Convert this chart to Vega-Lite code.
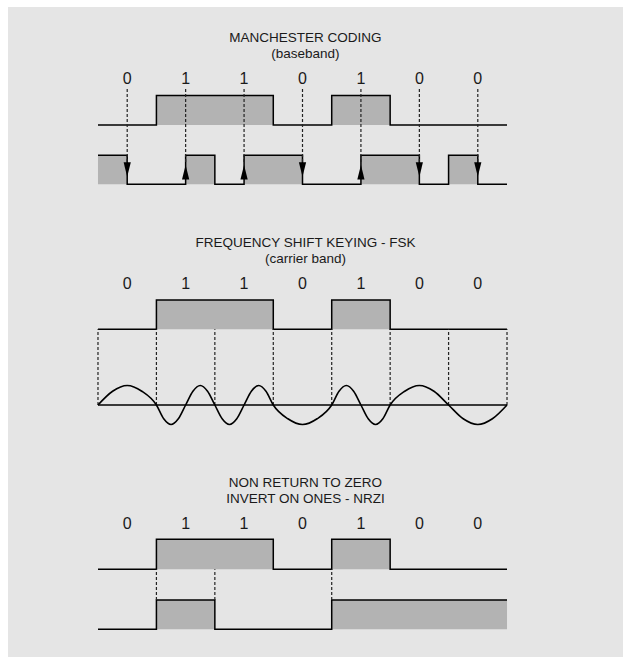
{
  "$schema": "https://vega.github.io/schema/vega-lite/v6.json",
  "width": 623,
  "height": 657,
  "autosize": {"type": "fit", "contains": "padding"},
  "padding": {"left": 8, "top": 7, "right": 0, "bottom": 0},
  "background": "#ffffff",
  "config": {"view": {"fill": "#e5e5e5", "stroke": null}},
  "datasets": {
    "bits": [
      {"t": 0.5, "bit": "0"}, {"t": 1.5, "bit": "1"}, {"t": 2.5, "bit": "1"}, {"t": 3.5, "bit": "0"},
      {"t": 4.5, "bit": "1"}, {"t": 5.5, "bit": "0"}, {"t": 6.5, "bit": "0"}
    ],
    "titles": [
      {"section": "manchester", "label": ["MANCHESTER CODING", "(baseband)"]},
      {"section": "fsk", "label": ["FREQUENCY SHIFT KEYING - FSK", "(carrier band)"]},
      {"section": "nrzi", "label": ["NON RETURN TO ZERO", "INVERT ON ONES - NRZI"]}
    ],
    "signal": [
      {"t": 0, "level": 0}, {"t": 1, "level": 1}, {"t": 3, "level": 0}, {"t": 4, "level": 1},
      {"t": 5, "level": 0}, {"t": 7, "level": 0}
    ],
    "manchester": [
      {"t": 0, "level": 1}, {"t": 0.5, "level": 0}, {"t": 1.5, "level": 1}, {"t": 2, "level": 0},
      {"t": 2.5, "level": 1}, {"t": 3.5, "level": 0}, {"t": 4.5, "level": 1}, {"t": 5.5, "level": 0},
      {"t": 6, "level": 1}, {"t": 6.5, "level": 0}, {"t": 7, "level": 0}
    ],
    "nrzi": [
      {"t": 0, "level": 0}, {"t": 1, "level": 1}, {"t": 2, "level": 0}, {"t": 4, "level": 1}, {"t": 7, "level": 1}
    ],
    "carrier": [
      {"t": 0, "v": 0}, {"t": 0.25, "v": 0.707}, {"t": 0.5, "v": 1}, {"t": 0.75, "v": 0.707}, {"t": 1, "v": 0},
      {"t": 1.125, "v": -0.707}, {"t": 1.25, "v": -1}, {"t": 1.375, "v": -0.707}, {"t": 1.5, "v": 0},
      {"t": 1.625, "v": 0.707}, {"t": 1.75, "v": 1}, {"t": 1.875, "v": 0.707}, {"t": 2, "v": 0},
      {"t": 2.125, "v": -0.707}, {"t": 2.25, "v": -1}, {"t": 2.375, "v": -0.707}, {"t": 2.5, "v": 0},
      {"t": 2.625, "v": 0.707}, {"t": 2.75, "v": 1}, {"t": 2.875, "v": 0.707}, {"t": 3, "v": 0},
      {"t": 3.25, "v": -0.707}, {"t": 3.5, "v": -1}, {"t": 3.75, "v": -0.707}, {"t": 4, "v": 0},
      {"t": 4.125, "v": 0.707}, {"t": 4.25, "v": 1}, {"t": 4.375, "v": 0.707}, {"t": 4.5, "v": 0},
      {"t": 4.625, "v": -0.707}, {"t": 4.75, "v": -1}, {"t": 4.875, "v": -0.707}, {"t": 5, "v": 0},
      {"t": 5.25, "v": 0.707}, {"t": 5.5, "v": 1}, {"t": 5.75, "v": 0.707}, {"t": 6, "v": 0},
      {"t": 6.25, "v": -0.707}, {"t": 6.5, "v": -1}, {"t": 6.75, "v": -0.707}, {"t": 7, "v": 0}
    ],
    "carrierAxis": [{"t0": 0, "t1": 7, "v": 0}],
    "fskTicks": [{"t": 0}, {"t": 1}, {"t": 2}, {"t": 3}, {"t": 4}, {"t": 5}, {"t": 6}, {"t": 7}],
    "nrziTicks": [{"t": 1}, {"t": 2}, {"t": 4}]
  },
  "layer": [
    {
      "layer": [
        {
          "data": {"name": "signal"},
          "mark": {"type": "area", "interpolate": "step-after", "color": "#b3b3b3", "opacity": 1},
          "encoding": {
            "x": {"field": "t", "type": "quantitative", "scale": {"domain": [-1.54, 8.985], "nice": false, "zero": false}, "axis": null},
            "y": {"field": "level", "type": "quantitative", "scale": {"domain": [0, 1], "range": [118, 88.5], "nice": false, "zero": false}, "axis": null},
            "y2": {"datum": 0}
          }
        },
        {
          "data": {"name": "signal"},
          "mark": {"type": "line", "interpolate": "step-after", "color": "#000000", "strokeWidth": 1.5},
          "encoding": {
            "x": {"field": "t", "type": "quantitative", "scale": {"domain": [-1.54, 8.985], "nice": false, "zero": false}, "axis": null},
            "y": {"field": "level", "type": "quantitative", "scale": {"domain": [0, 1], "range": [118, 88.5], "nice": false, "zero": false}, "axis": null}
          }
        },
        {
          "data": {"name": "titles"},
          "transform": [{"filter": "datum.section === 'manchester'"}],
          "mark": {"type": "text", "font": "Liberation Sans", "fontSize": 13.5, "lineHeight": 15.5, "align": "center", "baseline": "alphabetic", "color": "#1a1a1a"},
          "encoding": {
            "x": {"datum": 3.55, "type": "quantitative", "scale": {"domain": [-1.54, 8.985], "nice": false, "zero": false}, "axis": null},
            "y": {"datum": 2.803, "type": "quantitative", "scale": {"domain": [0, 1], "range": [118, 88.5], "nice": false, "zero": false}, "axis": null},
            "text": {"field": "label"}
          }
        },
        {
          "data": {"name": "bits"},
          "mark": {"type": "text", "font": "Liberation Sans", "fontSize": 16, "align": "center", "baseline": "alphabetic", "color": "#1a1a1a"},
          "encoding": {
            "x": {"field": "t", "type": "quantitative", "scale": {"domain": [-1.54, 8.985], "nice": false, "zero": false}, "axis": null},
            "y": {"datum": 1.38, "type": "quantitative", "scale": {"domain": [0, 1], "range": [118, 88.5], "nice": false, "zero": false}, "axis": null},
            "text": {"field": "bit"}
          }
        }
      ]
    },
    {
      "layer": [
        {
          "data": {"name": "manchester"},
          "mark": {"type": "area", "interpolate": "step-after", "color": "#b3b3b3", "opacity": 1},
          "encoding": {
            "x": {"field": "t", "type": "quantitative", "scale": {"domain": [-1.54, 8.985], "nice": false, "zero": false}, "axis": null},
            "y": {"field": "level", "type": "quantitative", "scale": {"domain": [0, 1], "range": [177.3, 148.3], "nice": false, "zero": false}, "axis": null},
            "y2": {"datum": 0}
          }
        },
        {
          "data": {"name": "manchester"},
          "mark": {"type": "line", "interpolate": "step-after", "color": "#000000", "strokeWidth": 1.5},
          "encoding": {
            "x": {"field": "t", "type": "quantitative", "scale": {"domain": [-1.54, 8.985], "nice": false, "zero": false}, "axis": null},
            "y": {"field": "level", "type": "quantitative", "scale": {"domain": [0, 1], "range": [177.3, 148.3], "nice": false, "zero": false}, "axis": null}
          }
        },
        {
          "data": {"name": "bits"},
          "mark": {"type": "rule", "color": "#222222", "strokeWidth": 1.2, "strokeDash": [3, 2]},
          "encoding": {
            "x": {"field": "t", "type": "quantitative", "scale": {"domain": [-1.54, 8.985], "nice": false, "zero": false}, "axis": null},
            "y": {"datum": 3.286, "type": "quantitative", "scale": {"domain": [0, 1], "range": [177.3, 148.3], "nice": false, "zero": false}, "axis": null},
            "y2": {"datum": 0.769}
          }
        },
        {
          "data": {"name": "bits"},
          "transform": [{"filter": "datum.bit === '0'"}],
          "mark": {"type": "point", "filled": true, "shape": "M-0.5,-1L0.5,-1L0,1Z", "size": 207, "color": "#000000", "opacity": 1},
          "encoding": {
            "x": {"field": "t", "type": "quantitative", "scale": {"domain": [-1.54, 8.985], "nice": false, "zero": false}, "axis": null},
            "y": {"datum": 0.51, "type": "quantitative", "scale": {"domain": [0, 1], "range": [177.3, 148.3], "nice": false, "zero": false}, "axis": null}
          }
        },
        {
          "data": {"name": "bits"},
          "transform": [{"filter": "datum.bit === '1'"}],
          "mark": {"type": "point", "filled": true, "shape": "M0,-1L0.5,1L-0.5,1Z", "size": 207, "color": "#000000", "opacity": 1},
          "encoding": {
            "x": {"field": "t", "type": "quantitative", "scale": {"domain": [-1.54, 8.985], "nice": false, "zero": false}, "axis": null},
            "y": {"datum": 0.417, "type": "quantitative", "scale": {"domain": [0, 1], "range": [177.3, 148.3], "nice": false, "zero": false}, "axis": null}
          }
        }
      ]
    },
    {
      "layer": [
        {
          "data": {"name": "signal"},
          "mark": {"type": "area", "interpolate": "step-after", "color": "#b3b3b3", "opacity": 1},
          "encoding": {
            "x": {"field": "t", "type": "quantitative", "scale": {"domain": [-1.54, 8.985], "nice": false, "zero": false}, "axis": null},
            "y": {"field": "level", "type": "quantitative", "scale": {"domain": [0, 1], "range": [322.3, 293], "nice": false, "zero": false}, "axis": null},
            "y2": {"datum": 0}
          }
        },
        {
          "data": {"name": "signal"},
          "mark": {"type": "line", "interpolate": "step-after", "color": "#000000", "strokeWidth": 1.5},
          "encoding": {
            "x": {"field": "t", "type": "quantitative", "scale": {"domain": [-1.54, 8.985], "nice": false, "zero": false}, "axis": null},
            "y": {"field": "level", "type": "quantitative", "scale": {"domain": [0, 1], "range": [322.3, 293], "nice": false, "zero": false}, "axis": null}
          }
        },
        {
          "data": {"name": "titles"},
          "transform": [{"filter": "datum.section === 'fsk'"}],
          "mark": {"type": "text", "font": "Liberation Sans", "fontSize": 13.5, "lineHeight": 15.5, "align": "center", "baseline": "alphabetic", "color": "#1a1a1a"},
          "encoding": {
            "x": {"datum": 3.55, "type": "quantitative", "scale": {"domain": [-1.54, 8.985], "nice": false, "zero": false}, "axis": null},
            "y": {"datum": 2.799, "type": "quantitative", "scale": {"domain": [0, 1], "range": [322.3, 293], "nice": false, "zero": false}, "axis": null},
            "text": {"field": "label"}
          }
        },
        {
          "data": {"name": "bits"},
          "mark": {"type": "text", "font": "Liberation Sans", "fontSize": 16, "align": "center", "baseline": "alphabetic", "color": "#1a1a1a"},
          "encoding": {
            "x": {"field": "t", "type": "quantitative", "scale": {"domain": [-1.54, 8.985], "nice": false, "zero": false}, "axis": null},
            "y": {"datum": 1.375, "type": "quantitative", "scale": {"domain": [0, 1], "range": [322.3, 293], "nice": false, "zero": false}, "axis": null},
            "text": {"field": "bit"}
          }
        }
      ]
    },
    {
      "layer": [
        {
          "data": {"name": "fskTicks"},
          "mark": {"type": "rule", "color": "#222222", "strokeWidth": 1.2, "strokeDash": [3, 2]},
          "encoding": {
            "x": {"field": "t", "type": "quantitative", "scale": {"domain": [-1.54, 8.985], "nice": false, "zero": false}, "axis": null},
            "y": {"datum": 0, "type": "quantitative", "scale": {"domain": [-1, 1], "range": [417.5, 378.5], "nice": false, "zero": false}, "axis": null},
            "y2": {"datum": 3.882}
          }
        },
        {
          "data": {"name": "carrierAxis"},
          "mark": {"type": "rule", "color": "#000000", "strokeWidth": 1.5},
          "encoding": {
            "x": {"field": "t0", "type": "quantitative", "scale": {"domain": [-1.54, 8.985], "nice": false, "zero": false}, "axis": null},
            "x2": {"field": "t1"},
            "y": {"field": "v", "type": "quantitative", "scale": {"domain": [-1, 1], "range": [417.5, 378.5], "nice": false, "zero": false}, "axis": null}
          }
        },
        {
          "data": {"name": "carrier"},
          "mark": {"type": "line", "interpolate": "monotone", "color": "#000000", "strokeWidth": 1.6},
          "encoding": {
            "x": {"field": "t", "type": "quantitative", "scale": {"domain": [-1.54, 8.985], "nice": false, "zero": false}, "axis": null},
            "y": {"field": "v", "type": "quantitative", "scale": {"domain": [-1, 1], "range": [417.5, 378.5], "nice": false, "zero": false}, "axis": null}
          }
        }
      ]
    },
    {
      "layer": [
        {
          "data": {"name": "signal"},
          "mark": {"type": "area", "interpolate": "step-after", "color": "#b3b3b3", "opacity": 1},
          "encoding": {
            "x": {"field": "t", "type": "quantitative", "scale": {"domain": [-1.54, 8.985], "nice": false, "zero": false}, "axis": null},
            "y": {"field": "level", "type": "quantitative", "scale": {"domain": [0, 1], "range": [562.3, 532.3], "nice": false, "zero": false}, "axis": null},
            "y2": {"datum": 0}
          }
        },
        {
          "data": {"name": "signal"},
          "mark": {"type": "line", "interpolate": "step-after", "color": "#000000", "strokeWidth": 1.5},
          "encoding": {
            "x": {"field": "t", "type": "quantitative", "scale": {"domain": [-1.54, 8.985], "nice": false, "zero": false}, "axis": null},
            "y": {"field": "level", "type": "quantitative", "scale": {"domain": [0, 1], "range": [562.3, 532.3], "nice": false, "zero": false}, "axis": null}
          }
        },
        {
          "data": {"name": "titles"},
          "transform": [{"filter": "datum.section === 'nrzi'"}],
          "mark": {"type": "text", "font": "Liberation Sans", "fontSize": 13.5, "lineHeight": 15.5, "align": "center", "baseline": "alphabetic", "color": "#1a1a1a"},
          "encoding": {
            "x": {"datum": 3.55, "type": "quantitative", "scale": {"domain": [-1.54, 8.985], "nice": false, "zero": false}, "axis": null},
            "y": {"datum": 2.733, "type": "quantitative", "scale": {"domain": [0, 1], "range": [562.3, 532.3], "nice": false, "zero": false}, "axis": null},
            "text": {"field": "label"}
          }
        },
        {
          "data": {"name": "bits"},
          "mark": {"type": "text", "font": "Liberation Sans", "fontSize": 16, "align": "center", "baseline": "alphabetic", "color": "#1a1a1a"},
          "encoding": {
            "x": {"field": "t", "type": "quantitative", "scale": {"domain": [-1.54, 8.985], "nice": false, "zero": false}, "axis": null},
            "y": {"datum": 1.333, "type": "quantitative", "scale": {"domain": [0, 1], "range": [562.3, 532.3], "nice": false, "zero": false}, "axis": null},
            "text": {"field": "bit"}
          }
        }
      ]
    },
    {
      "layer": [
        {
          "data": {"name": "nrzi"},
          "mark": {"type": "area", "interpolate": "step-after", "color": "#b3b3b3", "opacity": 1},
          "encoding": {
            "x": {"field": "t", "type": "quantitative", "scale": {"domain": [-1.54, 8.985], "nice": false, "zero": false}, "axis": null},
            "y": {"field": "level", "type": "quantitative", "scale": {"domain": [0, 1], "range": [622.3, 593], "nice": false, "zero": false}, "axis": null},
            "y2": {"datum": 0}
          }
        },
        {
          "data": {"name": "nrzi"},
          "mark": {"type": "line", "interpolate": "step-after", "color": "#000000", "strokeWidth": 1.5},
          "encoding": {
            "x": {"field": "t", "type": "quantitative", "scale": {"domain": [-1.54, 8.985], "nice": false, "zero": false}, "axis": null},
            "y": {"field": "level", "type": "quantitative", "scale": {"domain": [0, 1], "range": [622.3, 593], "nice": false, "zero": false}, "axis": null}
          }
        },
        {
          "data": {"name": "nrziTicks"},
          "mark": {"type": "rule", "color": "#222222", "strokeWidth": 1.2, "strokeDash": [3, 2]},
          "encoding": {
            "x": {"field": "t", "type": "quantitative", "scale": {"domain": [-1.54, 8.985], "nice": false, "zero": false}, "axis": null},
            "y": {"datum": 1, "type": "quantitative", "scale": {"domain": [0, 1], "range": [622.3, 593], "nice": false, "zero": false}, "axis": null},
            "y2": {"datum": 2.048}
          }
        }
      ]
    }
  ],
  "resolve": {"scale": {"y": "independent"}}
}
